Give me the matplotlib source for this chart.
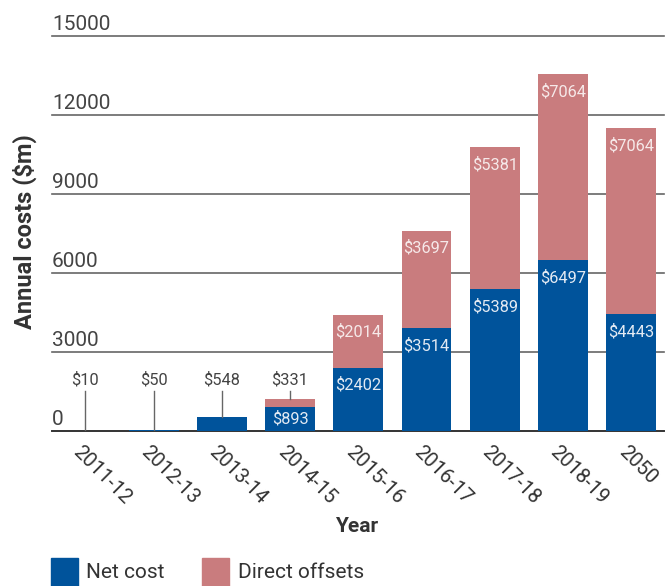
import matplotlib
matplotlib.use("Agg")
import matplotlib.pyplot as plt  # noqa: E402
from matplotlib.patches import Rectangle  # noqa: E402

years = ["2011-12", "2012-13", "2013-14", "2014-15", "2015-16",
         "2016-17", "2017-18", "2018-19", "2050"]
# bar heights as drawn (2016-17 net bar is drawn taller than its label says)
net_cost = [10, 50, 548, 893, 2402, 3905, 5389, 6497, 4443]
direct_offsets = [0, 0, 0, 331, 2014, 3697, 5381, 7064, 7064]
net_labels = ["$10", "$50", "$548", "$893", "$2402", "$3514", "$5389", "$6497", "$4443"]
offset_labels = ["", "", "", "$331", "$2014", "$3697", "$5381", "$7064", "$7064"]
y_ticks = [0, 3000, 6000, 9000, 12000, 15000]

BLUE = "#00539b"
PINK = "#c97c7e"
TEXT = "#444444"

plt.rcParams["font.family"] = ["Roboto", "DejaVu Sans"]

fig = plt.figure(figsize=(6.7, 5.86), dpi=100)
ax = fig.add_axes([0.0776, 0.2645, 0.9134, 0.674])

x = list(range(len(years)))
ax.bar(x, net_cost, width=0.73, color=BLUE, zorder=2)
ax.bar(x, direct_offsets, width=0.73, bottom=net_cost, color=PINK, zorder=2)

ax.set_xlim(-0.49, 8.48)
ax.set_ylim(0, 15000)

# gridlines with labels sitting above them
for v in y_ticks:
    ax.axhline(v, color="#333333" if v == 0 else "#666666",
               lw=1.4 if v == 0 else 1.2, zorder=1, clip_on=False)
    ax.annotate(str(v), (0, v), xycoords=ax.get_yaxis_transform(),
                xytext=(0, 4.5), textcoords="offset points",
                ha="left", va="baseline", fontsize=15, color=TEXT)

ax.set_xticks([])
ax.set_yticks([])
for s in ax.spines.values():
    s.set_visible(False)

# slanted year labels hanging under each bar
for i, yr in zip(x, years):
    ax.annotate(yr, (i, 0), xytext=(-2, -8), textcoords="offset points",
                rotation=-45, rotation_mode="anchor", ha="left", va="top",
                fontsize=14.5, color="#333333", annotation_clip=False)

label_y = 1930   # height of the call-out labels for tiny segments
line_top = 1530


def label_segment(i, bottom, height, text, txt_color):
    if not text:
        return
    top = bottom + height
    if height < 600:
        ax.plot([i, i], [top, line_top], color="#666666", lw=1, zorder=3)
        ax.text(i, label_y, text, ha="center", va="center",
                fontsize=11.8, color=TEXT)
    elif height < 1500:
        ax.text(i, bottom + height / 2, text, ha="center", va="center",
                fontsize=11.8, color=txt_color, zorder=4)
    else:
        ax.annotate(text, (i, top), xytext=(0, -12.5), textcoords="offset points",
                    ha="center", va="center", fontsize=11.8,
                    color=txt_color, zorder=4)


for i in x:
    label_segment(i, 0, net_cost[i], net_labels[i], "#e3eaf3")
    label_segment(i, net_cost[i], direct_offsets[i], offset_labels[i], "#f6e9e9")

fig.text(25 / 670, 1 - 232 / 586, "Annual costs ($m)", rotation=90,
         ha="center", va="center", fontsize=17, fontweight="bold", color="#333333")
fig.text(357 / 670, 1 - 527 / 586, "Year", ha="center", va="center",
         fontsize=15, fontweight="bold", color="#333333")

# legend
for rx, col, lab, tx in [(51, BLUE, "Net cost", 86), (201.5, PINK, "Direct offsets", 238)]:
    fig.add_artist(Rectangle((rx / 670, 0), 27 / 670, 28 / 586,
                             transform=fig.transFigure, color=col))
    fig.text(tx / 670, 1 - 573 / 586, lab, ha="left", va="center",
             fontsize=15, color="#333333")

fig.savefig("out.png", dpi=100)
